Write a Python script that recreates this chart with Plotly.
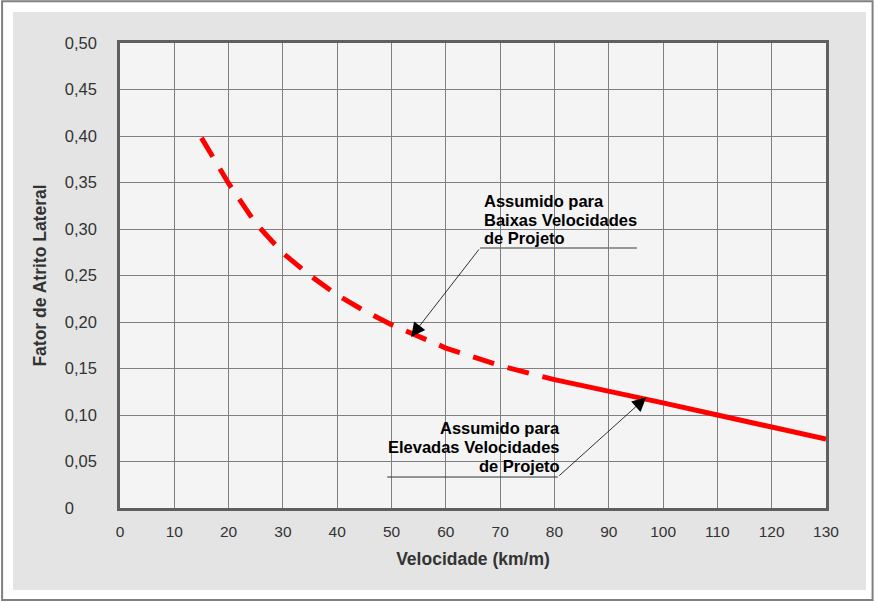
import plotly.graph_objects as go

# curva do fator de atrito lateral
vel_baixa = [15, 20, 25, 30, 35, 40, 45, 50, 60, 70, 80]
atrito_baixa = [0.398, 0.349, 0.306, 0.274, 0.250, 0.229, 0.212, 0.197, 0.172, 0.153, 0.138]
vel_alta = [80, 90, 100, 110, 120, 130]
atrito_alta = [0.138, 0.126, 0.113, 0.100, 0.087, 0.074]

x_ticks = list(range(0, 131, 10))
y_ticks = [0, 0.05, 0.10, 0.15, 0.20, 0.25, 0.30, 0.35, 0.40, 0.45, 0.50]
y_labels = ['0\u2008\u2007\u2007', '0,05', '0,10', '0,15', '0,20', '0,25',
            '0,30', '0,35', '0,40', '0,45', '0,50']

txt_baixa = ['Assumido para', 'Baixas Velocidades', 'de Projeto']
txt_alta = ['Assumido para', 'Elevadas Velocidades', 'de Projeto']

FONTE = 'Arial, Liberation Sans, sans-serif'

fig = go.Figure()
fig.add_trace(go.Scatter(x=vel_baixa, y=atrito_baixa, mode='lines',
                         line=dict(color='#ff0000', width=5, dash='22px,14px'),
                         hoverinfo='skip'))
fig.add_trace(go.Scatter(x=vel_alta, y=atrito_alta, mode='lines',
                         line=dict(color='#ff0000', width=5),
                         hoverinfo='skip'))

# moldura externa e painel cinza
fig.add_shape(type='rect', xref='paper', yref='paper', layer='below',
              x0=-0.167, x1=1.066, y0=-0.198, y1=1.090,
              line=dict(color='#808080', width=2), fillcolor='white')
fig.add_shape(type='rect', xref='paper', yref='paper', layer='below',
              x0=-0.1516, x1=1.0567, y0=-0.1763, y1=1.0667,
              line=dict(width=0), fillcolor='#e4e4e4')
fig.add_shape(type='rect', xref='paper', yref='paper', layer='below',
              x0=0, x1=1, y0=0, y1=1,
              line=dict(width=0), fillcolor='#f4f4f4')

# linhas de chamada
fig.add_shape(type='line', x0=66.3, x1=95.2, y0=0.2796, y1=0.2796,
              line=dict(color='#7a7a7a', width=1.5))
fig.add_shape(type='line', x0=49.2, x1=80.6, y0=0.0333, y1=0.0333,
              line=dict(color='#333333', width=1))

fig.add_annotation(x=53.6, y=0.184, ax=66.3, ay=0.2796, axref='x', ayref='y',
                   text='', showarrow=True, arrowhead=2, arrowsize=3.5,
                   arrowwidth=0.8, arrowcolor='black')
fig.add_annotation(x=96.9, y=0.119, ax=80.6, ay=0.0333, axref='x', ayref='y',
                   text='', showarrow=True, arrowhead=2, arrowsize=3.5,
                   arrowwidth=0.8, arrowcolor='black')

for linha, yy in zip(txt_baixa, [0.3301, 0.3102, 0.2903]):
    fig.add_annotation(x=66.6, y=yy, text=linha, showarrow=False,
                       xanchor='left', yanchor='middle',
                       font=dict(family=FONTE, size=16.5, color='black', weight='bold'))
for linha, yy in zip(txt_alta, [0.0855, 0.0656, 0.0457]):
    fig.add_annotation(x=81.3, y=yy, text=linha, showarrow=False,
                       xanchor='right', yanchor='middle',
                       font=dict(family=FONTE, size=16.5, color='black', weight='bold'))

fig.update_layout(
    width=879, height=602,
    margin=dict(l=120, r=53, t=43, b=94),
    paper_bgcolor='white',
    plot_bgcolor='rgba(0,0,0,0)',
    showlegend=False,
    font=dict(family=FONTE, color='#333333'),
)
fig.update_xaxes(range=[0, 130], tickvals=x_ticks, ticktext=[str(v) for v in x_ticks],
                 showgrid=True, gridcolor='#7f7f7f', gridwidth=1, zeroline=False,
                 showline=True, linecolor='#5f5f5f', linewidth=2.5, mirror=True,
                 ticks='', ticklabelstandoff=8,
                 tickfont=dict(size=15.5, color='#333333'),
                 title=dict(text='Velocidade (km/m)', standoff=14,
                            font=dict(size=17.5, color='#333333', weight='bold')))
fig.update_yaxes(range=[0, 0.5], tickvals=y_ticks, ticktext=y_labels,
                 showgrid=True, gridcolor='#7f7f7f', gridwidth=1, zeroline=False,
                 showline=True, linecolor='#5f5f5f', linewidth=2.5, mirror=True,
                 ticks='', ticklabelstandoff=17,
                 tickfont=dict(size=16.5, color='#333333'),
                 title=dict(text='Fator de Atrito Lateral', standoff=14,
                            font=dict(size=17.5, color='#333333', weight='bold')))

fig.write_html('out.html', config={'displayModeBar': False},
               post_script="document.body.style.margin='0';document.body.style.overflow='hidden';")
